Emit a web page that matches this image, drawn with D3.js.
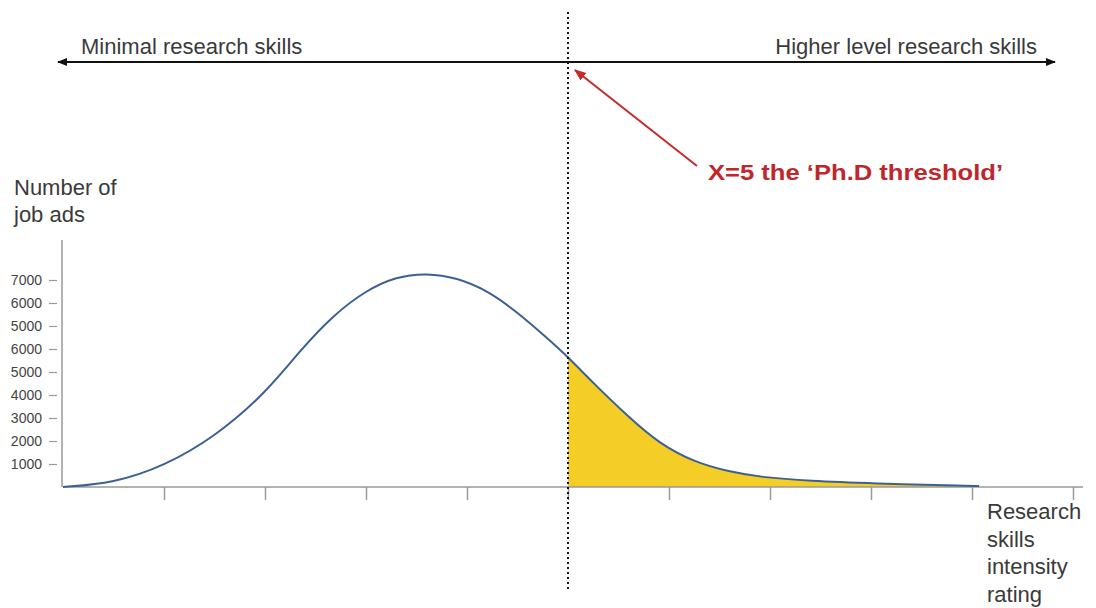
<!DOCTYPE html>
<html>
<head>
<meta charset="utf-8">
<script src="https://cdn.jsdelivr.net/npm/d3@7"></script>
<style>
  html, body { margin: 0; padding: 0; background: #fff; }
  svg { display: block; font-family: "Liberation Sans", Arial, sans-serif; }
</style>
</head>
<body>
<svg id="chart" width="1096" height="608"></svg>
<script>
// Research skills intensity rating (x) and number of job ads (positional units)
const ratings = [0, 0.5, 1, 1.5, 2, 2.35, 2.67, 3, 3.3, 3.6, 3.9, 4.2, 4.5, 4.8, 5, 5.25, 5.6, 5.9, 6.25, 6.6, 6.9, 7.4, 8, 9, 9.07];
const jobAds  = [0, 170, 910, 2170, 4050, 5950, 7450, 8550, 9150, 9300, 9100, 8550, 7600, 6450, 5650, 4520, 3040, 1900, 1080, 660, 430, 260, 160, 40, 40];
const threshold = 5;
const xTickValues = [1, 2, 3, 4, 5, 6, 7, 8, 9, 10];
const yTickValues = [1000, 2000, 3000, 4000, 5000, 6000, 7000, 8000, 9000];
const yTickLabels = ["1000", "2000", "3000", "4000", "5000", "6000", "5000", "6000", "7000"];
const leftLabel = "Minimal research skills";
const rightLabel = "Higher level research skills";
const annotation = "X=5 the \u2018Ph.D threshold\u2019";
const yTitle = ["Number of", "job ads"];
const xTitle = ["Research", "skills", "intensity", "rating"];

const data = ratings.map((r, i) => ({ x: r, y: jobAds[i] }));

const svg = d3.select("#chart");
const x = d3.scaleLinear().domain([0, 10]).range([63, 1073]);
const y = d3.scaleLinear().domain([0, 9000]).range([487, 280]);
const curve = d3.curveBasis;

const textColor = "#3a3a3a";
const axisColor = "#9a9a9a";

// defs: arrowheads and clip for the shaded tail
const defs = svg.append("defs");
function marker(id, color, size) {
  defs.append("marker").attr("id", id)
    .attr("viewBox", "0 0 10 10").attr("refX", 9).attr("refY", 5)
    .attr("markerWidth", size).attr("markerHeight", size).attr("orient", "auto-start-reverse")
    .attr("markerUnits", "strokeWidth")
    .append("path").attr("d", "M0,1 L10,5 L0,9 Z").attr("fill", color);
}
marker("arrBlack", "#111", 5);
marker("arrRed", "#c62a2a", 6);
defs.append("clipPath").attr("id", "tailClip")
  .append("rect").attr("x", x(threshold)).attr("y", 0)
  .attr("width", 1096 - x(threshold)).attr("height", y(0));

// yellow area beyond the threshold
svg.append("path").datum(data)
  .attr("fill", "#f5cd27").attr("clip-path", "url(#tailClip)")
  .attr("d", d3.area().x(d => x(d.x)).y0(y(0)).y1(d => y(d.y)).curve(curve));

// x axis
const xAxis = svg.append("g").attr("transform", `translate(0,${y(0)})`)
  .call(d3.axisBottom(x).tickValues(xTickValues).tickSize(13).tickSizeOuter(0).tickFormat(""));
xAxis.select(".domain").attr("d", `M${x(0)},0H1083`).attr("stroke", axisColor).attr("stroke-width", 1.5);
xAxis.selectAll(".tick line").attr("stroke", axisColor).attr("stroke-width", 1.5);

// y axis
const yAxis = svg.append("g").attr("transform", `translate(${x(0) - 1},0)`)
  .call(d3.axisLeft(y).tickValues(yTickValues).tickSize(13).tickSizeOuter(0)
    .tickFormat((d, i) => yTickLabels[i]));
yAxis.select(".domain").attr("d", `M0,240V${y(0)}`).attr("stroke", axisColor).attr("stroke-width", 1.5);
yAxis.selectAll(".tick line").attr("x1", -5).attr("x2", -13).attr("stroke", axisColor).attr("stroke-width", 1.2);
yAxis.selectAll(".tick text").attr("x", -20).attr("fill", "#444")
  .style("font-size", "14px").style("font-family", "'Liberation Sans', Arial, sans-serif");

// curve
svg.append("path").datum(data)
  .attr("fill", "none").attr("stroke", "#3b6194").attr("stroke-width", 2)
  .attr("d", d3.line().x(d => x(d.x)).y(d => y(d.y)).curve(curve));

// threshold dotted line
svg.append("line")
  .attr("x1", x(threshold)).attr("x2", x(threshold)).attr("y1", 12).attr("y2", 592)
  .attr("stroke", "#111").attr("stroke-width", 2).attr("stroke-dasharray", "2,3");

// top double arrow
svg.append("line")
  .attr("x1", 58).attr("x2", 1055).attr("y1", 62).attr("y2", 62)
  .attr("stroke", "#111").attr("stroke-width", 2)
  .attr("marker-start", "url(#arrBlack)").attr("marker-end", "url(#arrBlack)");

svg.append("text").attr("x", 81).attr("y", 54).attr("fill", textColor)
  .style("font-size", "22px").text(leftLabel);
svg.append("text").attr("x", 1037).attr("y", 54).attr("fill", textColor)
  .attr("text-anchor", "end").style("font-size", "22px").text(rightLabel);

// red annotation
svg.append("line")
  .attr("x1", 697).attr("y1", 166).attr("x2", 575).attr("y2", 70)
  .attr("stroke", "#c62a2a").attr("stroke-width", 2)
  .attr("marker-end", "url(#arrRed)");
svg.append("text").attr("x", 708).attr("y", 180).attr("fill", "#c0272d")
  .attr("textLength", 295).attr("lengthAdjust", "spacingAndGlyphs")
  .style("font-size", "22px").style("font-weight", "bold").text(annotation);

// axis titles
svg.append("g").selectAll("text").data(yTitle).join("text")
  .attr("x", 14).attr("y", (d, i) => 195 + i * 27).attr("fill", textColor)
  .style("font-size", "22px").text(d => d);
svg.append("g").selectAll("text").data(xTitle).join("text")
  .attr("x", 987).attr("y", (d, i) => 519 + i * 27.5).attr("fill", textColor)
  .style("font-size", "22px").text(d => d);
</script>
</body>
</html>
